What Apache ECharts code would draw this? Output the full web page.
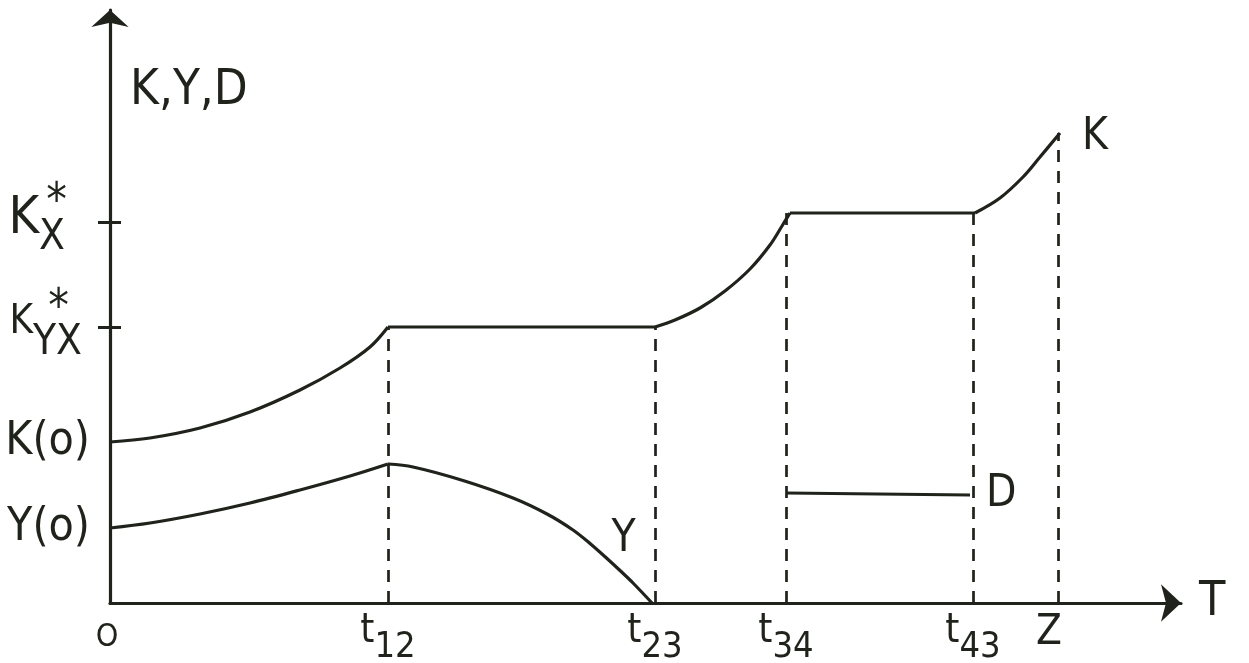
<!DOCTYPE html>
<html>
<head>
<meta charset="utf-8">
<script src="https://cdn.jsdelivr.net/npm/echarts@6/dist/echarts.min.js"></script>
<style>
html,body{margin:0;padding:0;background:#ffffff;}
#chart{width:1249px;height:663px;}
</style>
</head>
<body>
<div id="chart"></div>
<script>
// ---- data ----
const kCurve = [
  [0,16.1],[4,16.5],[9,17.5],[14,19.1],[19,21.3],[23,23.5],[26,25.6],[27.8,27.6],
  [54.5,27.6],[56.5,28.3],[59,29.5],[61.5,31.2],[64,33.4],[66,35.8],[67.2,37.7],[68,39.0],
  [86.5,39.0],[89,40.5],[91.3,42.6],[93,44.6],[95,47.0]
];
const kBreaks = [7, 8, 15, 16];          // indices where K changes regime (kinks)
const yCurve = [
  [0,7.5],[4,8.0],[9,8.9],[14,10.0],[19,11.3],[24,12.7],[27.8,13.9],
  [30.3,13.6],[35.3,12.25],[40.3,10.5],[43.7,8.9],[46.3,7.3],[48,5.95],[49.7,4.45],[51,3.25],[52.3,2.0],[54.2,0]
];
const yBreaks = [6];
const yLabelIndex = 11;
const dLine = [[67.6,11.0],[86.0,10.8]];
const xTickValues = [0, 27.8, 54.5, 67.6, 86.3, 94.8];
const xTickLabels = ['O', 't|12', 't|23', 't|34', 't|43', 'Z'];
const guideTops = [27.6, 27.6, 39.0, 39.0, 47.0]; // K level at t12, t23, t34, t43, Z
const yTickValues = [7.5, 16.1, 27.6, 38.1];
const yTickLabels = ['Y(o)', 'K(o)', 'K|YX', 'K|X'];
const yMarkedTicks = [27.6, 38.1];
const xMax = 107.1, yMax = 59.3;

const INK = '#1f231b';
const FONT = '"DejaVu Sans Condensed","Liberation Sans",sans-serif';
const GRID_L = 110, GRID_R = 68;
const GRID_W = 1249 - GRID_L - GRID_R;

function segments(pts, breaks) {
  const out = [];
  let start = 0;
  breaks.concat([pts.length - 1]).forEach(b => { out.push(pts.slice(start, b + 1)); start = b; });
  return out;
}

const guides = xTickValues.slice(1).map((t, i) => [{coord: [t, 0]}, {coord: [t, guideTops[i]]}]);

function yLabel(v) {
  const i = yTickValues.indexOf(v);
  const s = yTickLabels[i];
  if (s.indexOf('|') < 0) return '{p|' + s + '}';
  const parts = s.split('|');
  if (parts[1] === 'X') return '{a|*}{w23|}\n{k|K}{s|X}{w25|}';
  return '{a2|*}{w21|}\n{k2|K}{s2|YX}{w8|}';
}
function xLabel(v) {
  const i = xTickValues.indexOf(v);
  const s = xTickLabels[i];
  if (s === 'O') return '{o|O}';
  if (s.indexOf('|') < 0) return '{z|' + s + '}';
  const parts = s.split('|');
  return '{t|' + parts[0] + '}{d|' + parts[1] + '}';
}

const baseLine = {type: 'line', symbol: 'none', lineStyle: {color: INK, width: 3.2}, z: 3, silent: true};
const series = [];
const kSegs = segments(kCurve, kBreaks);
kSegs.forEach((seg, i) => {
  const s = Object.assign({}, baseLine, {name: 'K', data: seg, smooth: seg.length > 2 ? 0.35 : false});
  if (i === 0) {
    s.markLine = {
      silent: true, symbol: ['none', 'none'], label: {show: false},
      lineStyle: {color: INK, width: 2.7, type: [12, 9]},
      data: guides
    };
  }
  if (i === kSegs.length - 1) {
    s.endLabel = {show: true, formatter: 'K', distance: 22, offset: [0, 5], color: INK, fontFamily: FONT, fontSize: 44};
  }
  series.push(s);
});
const ySegs = segments(yCurve, yBreaks);
ySegs.forEach((seg, i) => {
  const offset = i === 0 ? 0 : yBreaks[i - 1];
  const s = Object.assign({}, baseLine, {
    name: 'Y', smooth: 0.35,
    symbol: 'circle', symbolSize: 1, showSymbol: true, itemStyle: {color: 'rgba(0,0,0,0)'},
    data: seg.map((p, j) => (j + offset === yLabelIndex)
      ? {value: p, label: {show: true, formatter: 'Y', position: 'right', distance: 38, offset: [0, 10], color: INK, fontFamily: FONT, fontSize: 44}}
      : p)
  });
  series.push(s);
});
series.push(Object.assign({}, baseLine, {
  name: 'D', data: dLine,
  endLabel: {show: true, formatter: 'D', distance: 16, color: INK, fontFamily: FONT, fontSize: 44}
}));

const chart = echarts.init(document.getElementById('chart'), null, {renderer: 'canvas'});
chart.setOption({
  backgroundColor: '#ffffff',
  animation: false,
  grid: {left: GRID_L, right: GRID_R, top: 603 - yMax * 10, bottom: 60, containLabel: false, outerBoundsMode: 'none'},
  xAxis: {
    type: 'value', min: 0, max: xMax,
    name: 'T', nameLocation: 'end', nameGap: 18,
    nameTextStyle: {color: INK, fontFamily: FONT, fontSize: 48, verticalAlign: 'middle', padding: [40, 0, 0, 0]},
    axisLine: {show: true, onZero: false, symbol: ['none', 'arrow'], symbolSize: [28, 20], lineStyle: {color: INK, width: 3.2}},
    axisTick: {show: false},
    splitLine: {show: false},
    axisLabel: {
      customValues: xTickValues, margin: 9, color: INK, fontFamily: FONT, formatter: xLabel,
      rich: {
        o: {fontSize: 32, fontFamily: FONT, color: INK, padding: [10, 6, 0, 0]},
        z: {fontSize: 42, fontFamily: FONT, color: INK, padding: [0, 18, 0, 0]},
        t: {fontSize: 40, fontFamily: FONT, color: INK, lineHeight: 46, verticalAlign: 'top'},
        d: {fontSize: 36, fontFamily: FONT, color: INK, lineHeight: 54, verticalAlign: 'bottom'}
      }
    }
  },
  yAxis: [{
    type: 'value', min: 0, max: yMax,
    name: 'K,Y,D', nameLocation: 'end', nameGap: -81,
    nameTextStyle: {color: INK, fontFamily: FONT, fontSize: 49, align: 'left', verticalAlign: 'middle', padding: [0, 0, 0, 20]},
    axisLine: {show: true, symbol: ['none', 'arrow'], symbolSize: [28, 17], lineStyle: {color: INK, width: 3.2}},
    axisTick: {show: true, customValues: yMarkedTicks, length: 12, lineStyle: {color: INK, width: 3}},
    splitLine: {show: false},
    axisLabel: {
      customValues: yTickValues, margin: 20, color: INK, fontFamily: FONT, formatter: yLabel,
      rich: {
        p: {fontSize: 46, fontFamily: FONT, color: INK},
        a: {fontSize: 46, fontFamily: FONT, color: INK, lineHeight: 20, height: 36, verticalAlign: 'top'},
        k: {fontSize: 52, fontFamily: FONT, color: INK, lineHeight: 20, height: 28, verticalAlign: 'top'},
        s: {fontSize: 42, fontFamily: FONT, color: INK, lineHeight: 54, verticalAlign: 'bottom'},
        a2: {fontSize: 46, fontFamily: FONT, color: INK, lineHeight: 20, height: 38, verticalAlign: 'top'},
        k2: {fontSize: 40, fontFamily: FONT, color: INK, lineHeight: 20, height: 26, verticalAlign: 'top'},
        s2: {fontSize: 42, fontFamily: FONT, color: INK, lineHeight: 54, verticalAlign: 'bottom'},
        w25: {width: 25, lineHeight: 20}, w23: {width: 23, lineHeight: 20},
        w21: {width: 21, lineHeight: 20}, w8: {width: 8, lineHeight: 20}
      }
    }
  }, {
    type: 'value', min: 0, max: yMax, position: 'right', offset: -GRID_W,
    axisLine: {show: false},
    axisTick: {show: true, inside: false, customValues: yMarkedTicks, length: 11, lineStyle: {color: INK, width: 3}},
    axisLabel: {show: false},
    splitLine: {show: false}
  }],
  series: series
});
</script>
</body>
</html>
